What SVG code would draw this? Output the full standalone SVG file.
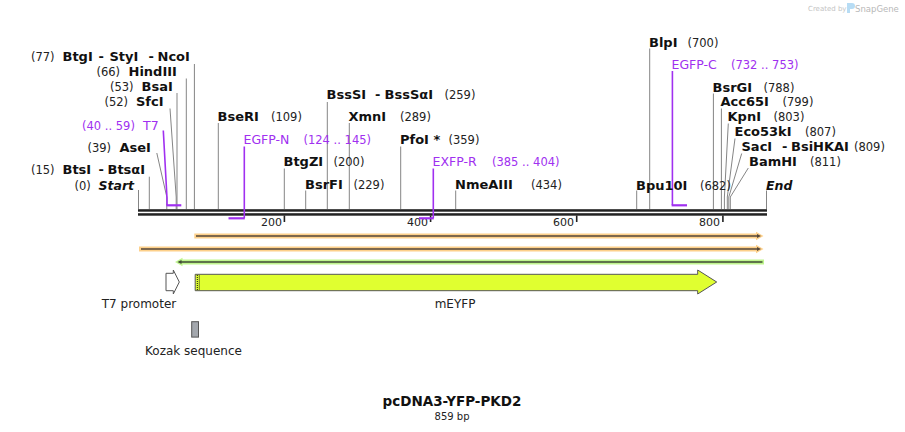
<svg xmlns="http://www.w3.org/2000/svg" width="905" height="432" viewBox="0 0 905 432">
<style>
  text { font-family: "DejaVu Sans", Verdana, sans-serif; fill: #111; }
  .nm { font-weight: bold; font-size: 13px; }
  .num { font-size: 11.5px; fill: #222; }
  .it { font-weight: bold; font-style: italic; font-size: 12.5px; }
  .pn { font-size: 12.5px; fill: #a030f0; }
  .pnum { font-size: 11.5px; fill: #a030f0; }
  .cut { stroke: #858585; stroke-width: 1; fill: none; }
  .prl { stroke: #a030f0; stroke-width: 1.6; fill: none; }
  .prb { stroke: #a030f0; stroke-width: 2.2; fill: none; }
  .tick { fill: #222; }
  .scl { font-size: 11px; fill: #222; }
  .flab { font-size: 12px; fill: #222; }
</style>
<rect width="905" height="432" fill="#fff"/>

<!-- SnapGene watermark -->
<g id="watermark">
  <text x="808" y="10.5" style="font-size:7px;fill:#c4c4c4">Created by</text>
  <path d="M847,3 h5 a3,3 0 0 1 0,6 h-2 v4 h-3 z" fill="#b7dcf4"/>
  <text x="855" y="11.5" style="font-size:8.5px;fill:#b8b8b8">SnapGene</text>
</g>

<!-- backbone -->
<g id="backbone">
  <rect x="138" y="209.2" width="629" height="2.5" fill="#222"/>
  <rect x="138" y="213.2" width="629" height="2.5" fill="#222"/>
  <rect class="tick" x="283.6" y="215.5" width="1.6" height="6.5"/>
  <rect class="tick" x="429.8" y="215.5" width="1.6" height="6.5"/>
  <rect class="tick" x="575.9" y="215.5" width="1.6" height="6.5"/>
  <rect class="tick" x="722.1" y="215.5" width="1.6" height="6.5"/>
  <text class="scl" x="282" y="226" text-anchor="end">200</text>
  <text class="scl" x="428" y="226" text-anchor="end">400</text>
  <text class="scl" x="574" y="226" text-anchor="end">600</text>
  <text class="scl" x="720" y="226" text-anchor="end">800</text>
</g>

<!-- connectors -->
<g id="connectors">
  <line class="cut" x1="194.4" y1="64" x2="194.4" y2="209"/>
  <line class="cut" x1="186.3" y1="78.5" x2="186.3" y2="209"/>
  <line class="cut" x1="177" y1="93" x2="177" y2="209"/>
  <polyline class="cut" points="170,108.5 176.2,197 176.2,209"/>
  <polyline class="cut" points="156.8,153 166.8,197 166.8,209"/>
  <line class="cut" x1="149.3" y1="176.7" x2="149.3" y2="209"/>
  <line class="cut" x1="138.5" y1="190" x2="138.5" y2="209"/>
  <line class="cut" x1="218.3" y1="123" x2="218.3" y2="209"/>
  <line class="cut" x1="327.3" y1="102" x2="327.3" y2="209"/>
  <line class="cut" x1="349.3" y1="123" x2="349.3" y2="209"/>
  <line class="cut" x1="400.7" y1="146.5" x2="400.7" y2="209"/>
  <line class="cut" x1="284.3" y1="168.5" x2="284.3" y2="209"/>
  <line class="cut" x1="305.7" y1="190.5" x2="305.7" y2="209"/>
  <line class="cut" x1="455.7" y1="190.5" x2="455.7" y2="209"/>
  <line class="cut" x1="649.7" y1="48.5" x2="649.7" y2="209"/>
  <line class="cut" x1="713.4" y1="93.5" x2="713.4" y2="209"/>
  <line class="cut" x1="721.4" y1="108.5" x2="721.4" y2="209"/>
  <polyline class="cut" points="728.3,123.5 724.4,197 724.4,209"/>
  <polyline class="cut" points="735,138.5 727.3,197 727.3,209"/>
  <polyline class="cut" points="741.7,153.5 728.8,197 728.8,209"/>
  <polyline class="cut" points="748.3,168 730.3,197 730.3,209"/>
  <line class="cut" x1="636.7" y1="190.5" x2="636.7" y2="209"/>
  <line class="cut" x1="766.5" y1="190.5" x2="766.5" y2="209"/>
  <!-- primer connectors -->
  <polyline class="prl" points="163.3,130.5 167,198 167,205"/>
  <line class="prl" x1="244.3" y1="146.5" x2="244.3" y2="218"/>
  <line class="prl" x1="433.3" y1="168.5" x2="433.3" y2="218"/>
  <line class="prl" x1="672.4" y1="71" x2="672.4" y2="205"/>
</g>

<!-- enzyme labels -->
<g id="site-BtgI-StyI-NcoI">
  <text class="num" x="31" y="61">(77)</text>
  <text class="nm" y="61"><tspan x="62.5">BtgI</tspan><tspan x="98.5">-</tspan><tspan x="109.5">StyI</tspan><tspan x="148.5">-</tspan><tspan x="157.5">NcoI</tspan></text>
</g>
<g id="site-HindIII">
  <text class="num" x="96.5" y="76">(66)</text>
  <text class="nm" x="128.5" y="76">HindIII</text>
</g>
<g id="site-BsaI">
  <text class="num" x="110" y="91">(53)</text>
  <text class="nm" x="141.5" y="91">BsaI</text>
</g>
<g id="site-SfcI">
  <text class="num" x="104.5" y="106">(52)</text>
  <text class="nm" x="136" y="106">SfcI</text>
</g>
<g id="primer-T7">
  <text class="pnum" x="82" y="129.5">(40 .. 59)</text>
  <text class="pn" x="143" y="129.5">T7</text>
  <line class="prb" x1="166.3" y1="205.3" x2="181.3" y2="205.3"/>
</g>
<g id="site-AseI">
  <text class="num" x="87.5" y="151.5">(39)</text>
  <text class="nm" x="119.5" y="151.5">AseI</text>
</g>
<g id="site-BtsI-BtsaI">
  <text class="num" x="31" y="174.3">(15)</text>
  <text class="nm" y="174.3"><tspan x="62.5">BtsI</tspan><tspan x="98.5">-</tspan><tspan x="107.5">BtsαI</tspan></text>
</g>
<g id="site-Start">
  <text class="num" x="74.5" y="189.5">(0)</text>
  <text class="it" x="98.5" y="189.5">Start</text>
</g>
<g id="site-BseRI">
  <text class="nm" x="217.5" y="121">BseRI</text>
  <text class="num" x="271" y="121">(109)</text>
</g>
<g id="site-BssSI-BssSaI">
  <text class="nm" y="99.3"><tspan x="326.5">BssSI</tspan><tspan x="375">-</tspan><tspan x="384.5">BssSαI</tspan></text>
  <text class="num" x="444.5" y="99.3">(259)</text>
</g>
<g id="site-XmnI">
  <text class="nm" x="348.5" y="121">XmnI</text>
  <text class="num" x="400" y="121">(289)</text>
</g>
<g id="primer-EGFP-N">
  <text class="pn" x="243.5" y="144.3">EGFP-N</text>
  <text class="pnum" x="303.5" y="144.3">(124 .. 145)</text>
  <line class="prb" x1="228.5" y1="218.3" x2="244.8" y2="218.3"/>
</g>
<g id="site-PfoI">
  <text class="nm" x="400" y="144.3">PfoI *</text>
  <text class="num" x="448.5" y="144.3">(359)</text>
</g>
<g id="site-BtgZI">
  <text class="nm" x="283.5" y="166">BtgZI</text>
  <text class="num" x="333.5" y="166">(200)</text>
</g>
<g id="primer-EXFP-R">
  <text class="pn" x="432.5" y="166">EXFP-R</text>
  <text class="pnum" x="492" y="166">(385 .. 404)</text>
  <line class="prb" x1="419" y1="218.3" x2="433.8" y2="218.3"/>
</g>
<g id="site-BsrFI">
  <text class="nm" x="305" y="188.7">BsrFI</text>
  <text class="num" x="353.5" y="188.7">(229)</text>
</g>
<g id="site-NmeAIII">
  <text class="nm" x="455" y="188.7">NmeAIII</text>
  <text class="num" x="531" y="188.7">(434)</text>
</g>
<g id="site-BlpI">
  <text class="nm" x="649" y="46.7">BlpI</text>
  <text class="num" x="687.5" y="46.7">(700)</text>
</g>
<g id="primer-EGFP-C">
  <text class="pn" x="671.5" y="69.3">EGFP-C</text>
  <text class="pnum" x="731" y="69.3">(732 .. 753)</text>
  <line class="prb" x1="671.6" y1="205.3" x2="687" y2="205.3"/>
</g>
<g id="site-BsrGI">
  <text class="nm" x="712.5" y="91.7">BsrGI</text>
  <text class="num" x="763.5" y="91.7">(788)</text>
</g>
<g id="site-Acc65I">
  <text class="nm" x="720.5" y="106">Acc65I</text>
  <text class="num" x="782.5" y="106">(799)</text>
</g>
<g id="site-KpnI">
  <text class="nm" x="727.5" y="121.3">KpnI</text>
  <text class="num" x="773.5" y="121.3">(803)</text>
</g>
<g id="site-Eco53kI">
  <text class="nm" x="734.5" y="136">Eco53kI</text>
  <text class="num" x="805" y="136">(807)</text>
</g>
<g id="site-SacI-BsiHKAI">
  <text class="nm" y="151"><tspan x="741.5">SacI</tspan><tspan x="782">-</tspan><tspan x="791">BsiHKAI</tspan></text>
  <text class="num" x="854" y="151">(809)</text>
</g>
<g id="site-BamHI">
  <text class="nm" x="749" y="166">BamHI</text>
  <text class="num" x="810" y="166">(811)</text>
</g>
<g id="site-Bpu10I">
  <text class="nm" x="636" y="189.5">Bpu10I</text>
  <text class="num" x="700" y="189.5">(682)</text>
</g>
<g id="site-End">
  <text class="it" x="766" y="189.5">End</text>
</g>

<!-- features -->
<g id="feature-orange-1">
  <path d="M194.3,233.6 H756 V231.8 L763.5,236 L756,240.2 V238.4 H194.3 Z" fill="#fdd08a"/>
  <path d="M196,235.2 H757 V234 L761,236 L757,238 V236.8 H196 Z" fill="#54463a"/>
</g>
<g id="feature-orange-2">
  <path d="M139,246.6 H756 V244.8 L763.5,249 L756,253.2 V251.4 H139 Z" fill="#fdd08a"/>
  <path d="M141,248.2 H757 V247 L761,249 L757,251 V249.8 H141 Z" fill="#54463a"/>
</g>
<g id="feature-green">
  <path d="M764,259.6 H182.5 V257.8 L175,262 L182.5,266.2 V264.4 H764 Z" fill="#bff58e"/>
  <path d="M762.5,261.2 H181.5 V260 L177.5,262 L181.5,264 V262.8 H762.5 Z" fill="#3f4a34"/>
</g>
<g id="feature-T7-promoter">
  <path d="M166,273.3 H173.3 V270 L179.3,282 L173.3,294 V290.7 H166 Z" fill="#fff" stroke="#555" stroke-width="1"/>
  <text class="flab" x="139" y="307.5" text-anchor="middle">T7 promoter</text>
</g>
<g id="feature-mEYFP">
  <path d="M195.2,274.3 H697.7 V270 L716.7,282 L697.7,294 V290.7 H195.2 Z" fill="#e0ff30" stroke="#555" stroke-width="1"/>
  <line x1="197.3" y1="275" x2="197.3" y2="290" stroke="#111" stroke-width="1" stroke-dasharray="1,1"/>
  <line x1="199.3" y1="275.5" x2="199.3" y2="290" stroke="#111" stroke-width="1" stroke-dasharray="1,1"/>
  <text class="flab" x="455" y="307.5" text-anchor="middle">mEYFP</text>
</g>
<g id="feature-Kozak">
  <rect x="191.7" y="321.7" width="6.8" height="15.4" fill="#a3a7ad" stroke="#555" stroke-width="1"/>
  <text class="flab" x="193.5" y="355" text-anchor="middle">Kozak sequence</text>
</g>

<!-- title -->
<g id="title">
  <text x="452" y="406" text-anchor="middle" style="font-weight:bold;font-size:13.5px">pcDNA3-YFP-PKD2</text>
  <text x="452" y="420" text-anchor="middle" style="font-size:10px;fill:#222">859 bp</text>
</g>
</svg>
